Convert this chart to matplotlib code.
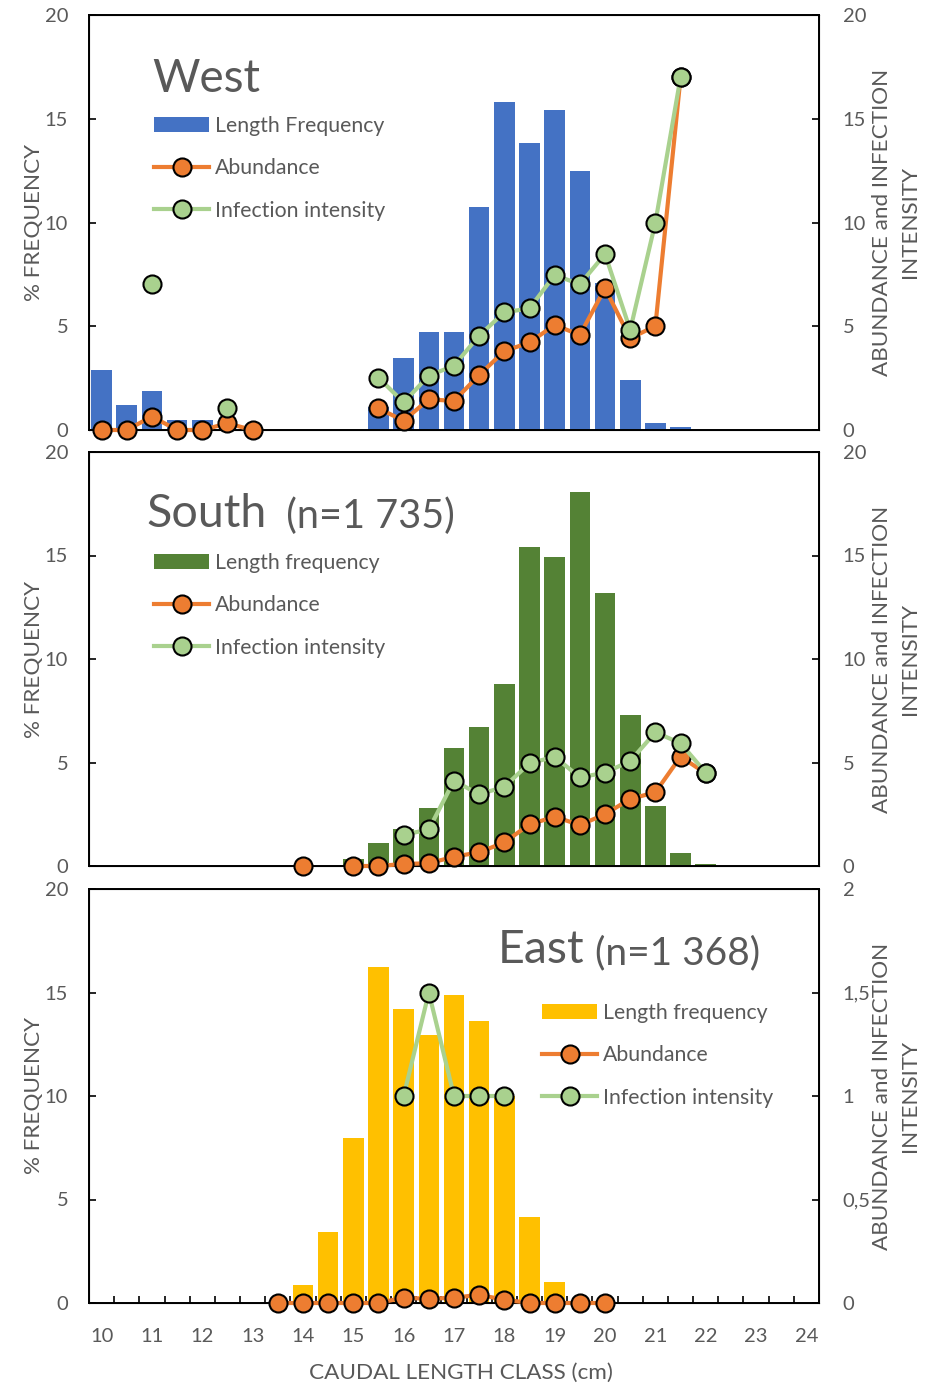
import numpy as np
import matplotlib.pyplot as plt

plt.rcParams['font.family'] = ['Lato', 'DejaVu Sans']

nan = np.nan

# caudal length classes (cm)
classes = ['10', '10.5', '11', '11.5', '12', '12.5', '13', '13.5', '14', '14.5',
           '15', '15.5', '16', '16.5', '17', '17.5', '18', '18.5', '19', '19.5',
           '20', '20.5', '21', '21.5', '22', '22.5', '23', '23.5', '24']

west_freq = [2.9, 1.2, 1.9, 0.5, 0.5, 0, 0, 0, 0, 0,
             0, 1.1, 3.45, 4.7, 4.7, 10.75, 15.8, 13.85, 15.4, 12.5,
             7.1, 2.4, 0.32, 0.15, 0, 0, 0, 0, 0]
west_abund = [0, 0, 0.65, 0, 0, 0.32, 0, nan, nan, nan,
              nan, 1.04, 0.45, 1.48, 1.4, 2.65, 3.8, 4.22, 5.06, 4.58,
              6.83, 4.42, 5.01, 17, nan, nan, nan, nan, nan]
west_int = [nan, nan, 7.02, nan, nan, 1.04, nan, nan, nan, nan,
            nan, 2.52, 1.33, 2.62, 3.1, 4.55, 5.67, 5.86, 7.47, 7.02,
            8.48, 4.82, 10, 17, nan, nan, nan, nan, nan]

south_freq = [0, 0, 0, 0, 0, 0, 0, 0, 0, 0,
              0.32, 1.13, 1.77, 2.79, 5.68, 6.73, 8.78, 15.39, 14.91, 18.05,
              13.2, 7.29, 2.91, 0.61, 0.1, 0, 0, 0, 0]
south_abund = [nan, nan, nan, nan, nan, nan, nan, nan, 0, nan,
               0, 0, 0.1, 0.13, 0.45, 0.66, 1.14, 2.01, 2.38, 1.98,
               2.5, 3.24, 3.56, 5.28, 4.48, nan, nan, nan, nan]
south_int = [nan, nan, nan, nan, nan, nan, nan, nan, nan, nan,
             nan, nan, 1.5, 1.77, 4.12, 3.46, 3.83, 4.96, 5.28, 4.28,
             4.51, 5.07, 6.46, 5.93, 4.51, nan, nan, nan, nan]

east_freq = [0, 0, 0, 0, 0, 0, 0, 0, 0.87, 3.45,
             7.99, 16.25, 14.22, 12.95, 14.86, 13.62, 10.0, 4.15, 1.01, 0,
             0, 0, 0, 0, 0, 0, 0, 0, 0]
east_abund = [nan, nan, nan, nan, nan, nan, nan, 0, 0, 0,
              0, 0, 0.026, 0.02, 0.026, 0.039, 0.016, 0, 0, 0,
              0, nan, nan, nan, nan, nan, nan, nan, nan]
east_int = [nan, nan, nan, nan, nan, nan, nan, nan, nan, nan,
            nan, nan, 1, 1.5, 1, 1, 1, nan, nan, nan,
            nan, nan, nan, nan, nan, nan, nan, nan, nan]

GREY = '#595959'
ORANGE = '#ED7D31'
GREEN = '#A9D18E'

W, H = 928, 1387
fig = plt.figure(figsize=(W / 100, H / 100), dpi=100)
x = np.arange(len(classes))


def panel(top, bottom, freq, abund, inten, bar_color, bar_label,
          rmax, rticks, rlabels, last=False):
    ax = fig.add_axes([89 / W, 1 - bottom / H, 730 / W, (bottom - top) / H])
    ax.bar(x, freq, width=0.82, color=bar_color, label=bar_label, zorder=2)
    ax.set_xlim(-0.5, len(classes) - 0.5)
    ax.set_ylim(0, 20)
    ax.set_yticks([0, 5, 10, 15, 20])
    ax.tick_params(axis='y', direction='in', length=5, width=1.2, pad=15,
                   labelsize=14.5, labelcolor=GREY)
    for s in ax.spines.values():
        s.set_linewidth(1.4)
    ax.set_ylabel('% FREQUENCY', fontsize=16.2, color=GREY, va='center')
    ax.yaxis.set_label_coords(-0.075, 0.5)
    if last:
        ax.set_xticks(x[::2])
        ax.set_xticklabels(classes[::2])
        ax.set_xticks(np.arange(0.5, len(classes) - 1, 1.0), minor=True)
        ax.tick_params(axis='x', which='major', length=0, pad=18,
                       labelsize=14.5, labelcolor=GREY)
        ax.tick_params(axis='x', which='minor', direction='in', length=5, width=1.2)
        ax.set_xlabel('CAUDAL LENGTH CLASS (cm)', fontsize=16.2, color=GREY,
                      va='center')
        ax.xaxis.set_label_coords(0.51, -0.169)
    else:
        ax.set_xticks([])

    ax2 = ax.twinx()
    ax2.set_ylim(0, rmax)
    ax2.set_yticks(rticks)
    ax2.set_yticklabels(rlabels)
    ax2.tick_params(axis='y', direction='in', length=5, width=1.2, pad=17,
                    labelsize=14.5, labelcolor=GREY)
    ax2.set_ylabel('ABUNDANCE and INFECTION\nINTENSITY', fontsize=16.2,
                   color=GREY, linespacing=1.5, va='center', ha='center')
    ax2.yaxis.set_label_coords(1.1055, 0.5)
    mk = dict(marker='o', markersize=13, markeredgecolor='black',
              markeredgewidth=1.5, linewidth=3, clip_on=False)
    ax2.plot(x, abund, color=ORANGE, markerfacecolor=ORANGE,
             label='Abundance', zorder=3, **mk)
    ax2.plot(x, inten, color=GREEN, markerfacecolor=GREEN,
             label='Infection intensity', zorder=4, **mk)
    h1, l1 = ax.get_legend_handles_labels()
    h2, l2 = ax2.get_legend_handles_labels()
    return ax, ax2, h1 + h2, l1 + l2


def legend(ax2, handles, labels, left, top):
    ax2.legend(handles, labels, loc='upper left', frameon=False,
               bbox_to_anchor=(left / W, 1 - top / H),
               bbox_transform=fig.transFigure, borderpad=0, borderaxespad=0,
               fontsize=15.3, labelcolor=GREY, handlelength=2.6,
               handletextpad=0.25, labelspacing=1.05)


ax, ax2, h, l = panel(15, 430, west_freq, west_abund, west_int, '#4472C4',
                      'Length Frequency', 20, [0, 5, 10, 15, 20],
                      ['0', '5', '10', '15', '20'])
legend(ax2, h, l, 154, 116)
fig.text(152 / W, 1 - 92 / H, 'West', fontsize=33, color=GREY,
         ha='left', va='baseline')

ax, ax2, h, l = panel(452, 866, south_freq, south_abund, south_int, '#548235',
                      'Length frequency', 20, [0, 5, 10, 15, 20],
                      ['0', '5', '10', '15', '20'])
legend(ax2, h, l, 154, 553)
t = fig.text(146 / W, 1 - 527 / H, 'South', fontsize=33.5, color=GREY,
             ha='left', va='baseline')
ax2.annotate('  (n=1 735)', xy=(1, 0), xycoords=t, fontsize=28.5, color=GREY,
             ha='left', va='bottom')

ax, ax2, h, l = panel(889, 1303, east_freq, east_abund, east_int, '#FFC000',
                      'Length frequency', 2, [0, 0.5, 1, 1.5, 2],
                      ['0', '0,5', '1', '1,5', '2'], last=True)
legend(ax2, h, l, 542, 1003)
t = fig.text(498 / W, 1 - 963 / H, 'East', fontsize=33.5, color=GREY,
             ha='left', va='baseline')
ax2.annotate(' (n=1 368)', xy=(1, 0), xycoords=t, fontsize=28, color=GREY,
             ha='left', va='bottom')

fig.savefig('out.png', dpi=100)
